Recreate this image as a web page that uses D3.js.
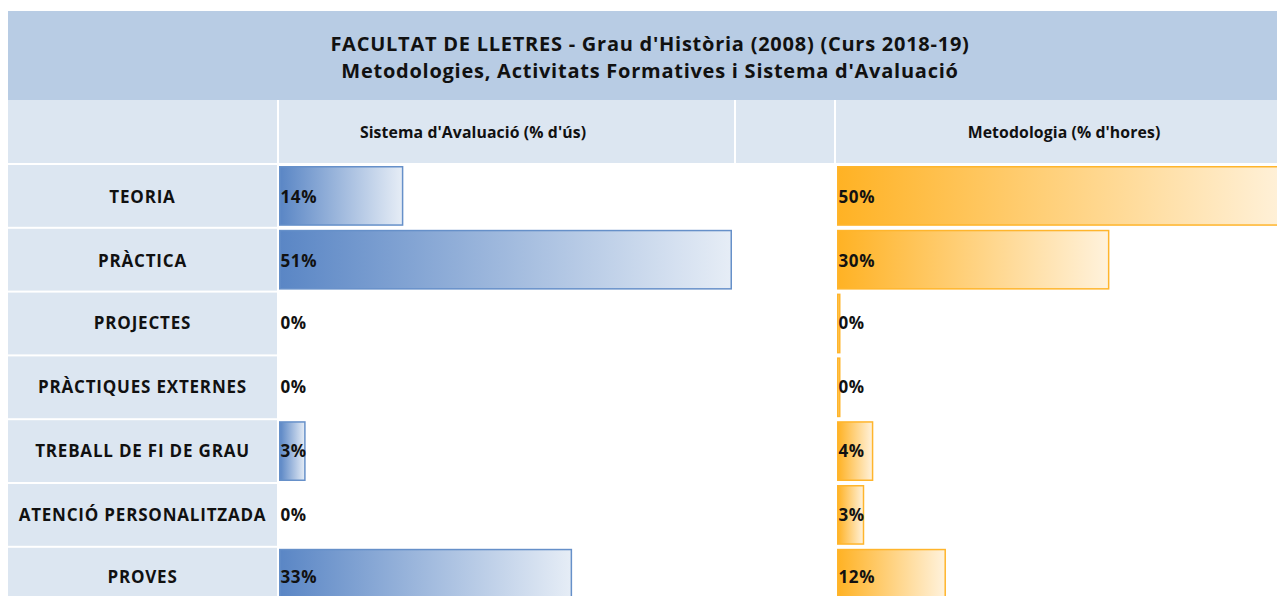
<!DOCTYPE html>
<html>
<head>
<meta charset="utf-8">
<script src="https://cdn.jsdelivr.net/npm/d3@7"></script>
<style>
  body { margin: 0; background: #fff; }
  svg { display: block; font-family: "Open Sans", sans-serif; }
</style>
</head>
<body>
<svg id="chart" width="1277" height="596"></svg>
<script>
// Categories (rows) and the two percentage series
const categories = ["TEORIA", "PRÀCTICA", "PROJECTES", "PRÀCTIQUES EXTERNES",
                    "TREBALL DE FI DE GRAU", "ATENCIÓ PERSONALITZADA", "PROVES"];
const avaluacio   = [14, 51, 0, 0, 3, 0, 33];   // Sistema d'Avaluació (% d'ús)
const metodologia = [50, 30, 0, 0, 4, 3, 12];   // Metodologia (% d'hores)

const titleLines = ["FACULTAT DE LLETRES - Grau d'Història (2008) (Curs 2018-19)",
                    "Metodologies, Activitats Formatives i Sistema d'Avaluació"];
const columnHeaders = ["Sistema d'Avaluació (% d'ús)", "Metodologia (% d'hores)"];

const svg = d3.select("#chart");
const W = 1277;
const defs = svg.append("defs");

// Table grid
const labelCol = { x0: 8, x1: 277 };
const blueCol  = { x0: 279, x1: 734 };
const gapCol   = { x0: 736, x1: 834 };
const orangeCol = { x0: 836, x1: W };
const titleBand = { y0: 11, y1: 100 };
const headerBand = { y0: 100, y1: 164 };

const y = d3.scaleBand()
  .domain(categories)
  .range([164, 164 + categories.length * 63.8]);

// Title band
svg.append("rect")
  .attr("x", labelCol.x0).attr("y", titleBand.y0)
  .attr("width", W - labelCol.x0).attr("height", titleBand.y1 - titleBand.y0)
  .attr("fill", "#b8cce4");

svg.selectAll("text.title")
  .data(titleLines)
  .join("text")
  .attr("class", "title")
  .attr("x", 650)
  .attr("y", (d, i) => 44 + i * 27)
  .attr("dy", "0.35em")
  .attr("text-anchor", "middle")
  .attr("font-size", 20)
  .attr("letter-spacing", 0.75)
  .attr("font-weight", 700)
  .attr("fill", "#111")
  .text(d => d);

// Header row cells
[labelCol, blueCol, gapCol, orangeCol].forEach(c => {
  svg.append("rect")
    .attr("x", c.x0).attr("y", headerBand.y0)
    .attr("width", c.x1 - c.x0).attr("height", headerBand.y1 - headerBand.y0 - 1)
    .attr("fill", "#dce6f1");
});

const headerCenters = [473, 1064];
svg.selectAll("text.colhead")
  .data(columnHeaders)
  .join("text")
  .attr("class", "colhead")
  .attr("x", (d, i) => headerCenters[i])
  .attr("y", 132)
  .attr("dy", "0.35em")
  .attr("text-anchor", "middle")
  .attr("font-size", 15.8)
  .attr("letter-spacing", 0.1)
  .attr("font-weight", 700)
  .attr("fill", "#111")
  .text(d => d);

// Category label cells
svg.selectAll("rect.labelcell")
  .data(categories)
  .join("rect")
  .attr("class", "labelcell")
  .attr("x", labelCol.x0)
  .attr("y", d => y(d) + 1)
  .attr("width", labelCol.x1 - labelCol.x0)
  .attr("height", y.bandwidth() - 2)
  .attr("fill", "#dce6f1");

svg.selectAll("text.catlabel")
  .data(categories)
  .join("text")
  .attr("class", "catlabel")
  .attr("x", (labelCol.x0 + labelCol.x1) / 2)
  .attr("y", (d, i) => y(d) + y.bandwidth() / 2 + (i < 2 ? 1.5 : 0) - (i === categories.length - 1 ? 2 : 0))
  .attr("dy", "0.35em")
  .attr("text-anchor", "middle")
  .attr("font-size", 17)
  .attr("letter-spacing", 0.8)
  .attr("font-weight", 700)
  .attr("fill", "#111")
  .text(d => d);

// Data bars with per-bar gradients
const xBlue = d3.scaleLinear().domain([0, 51]).range([279, 732]);
const xOrange = d3.scaleLinear().domain([0, 50]).range([837, 1291]);

function gradient(id, from, to) {
  const g = defs.append("linearGradient").attr("id", id)
    .attr("x1", "0%").attr("x2", "100%").attr("y1", "0%").attr("y2", "0%");
  g.append("stop").attr("offset", "0%").attr("stop-color", from);
  g.append("stop").attr("offset", "100%").attr("stop-color", to);
}
gradient("gBlue", "#5a86c5", "#e6edf6");
gradient("gOrange", "#ffb224", "#fff2dc");

function drawBars(cls, values, x, fillId, stroke, minLen, skipZero) {
  const rows = categories.map((c, i) => ({ c, v: values[i], i }));
  const g = svg.append("g").attr("class", cls);
  g.selectAll("rect")
    .data(rows.filter(d => !(skipZero && d.v === 0)))
    .join("rect")
    .attr("x", x(0) + 0.75)
    .attr("y", d => y(d.c) + 2.75)
    .attr("width", d => Math.max(minLen, x(d.v) - x(0)) - 1.5)
    .attr("height", y.bandwidth() - 5.5)
    .attr("fill", `url(#${fillId})`)
    .attr("stroke", stroke)
    .attr("stroke-width", 1.5);
  g.selectAll("text")
    .data(rows)
    .join("text")
    .attr("x", x(0) + 1.5)
    .attr("y", d => y(d.c) + y.bandwidth() / 2 + (d.i < 2 ? 1 : 0) - (d.i === categories.length - 1 ? 2 : 0))
    .attr("dy", "0.35em")
    .attr("font-size", 17)
    .attr("letter-spacing", 0.6)
    .attr("font-weight", 700)
    .attr("fill", "#111")
    .text(d => d.v + "%");
}

drawBars("avaluacio", avaluacio, xBlue, "gBlue", "#6690c9", 0, true);
drawBars("metodologia", metodologia, xOrange, "gOrange", "#ffb52c", 3.5, false);
</script>
</body>
</html>
